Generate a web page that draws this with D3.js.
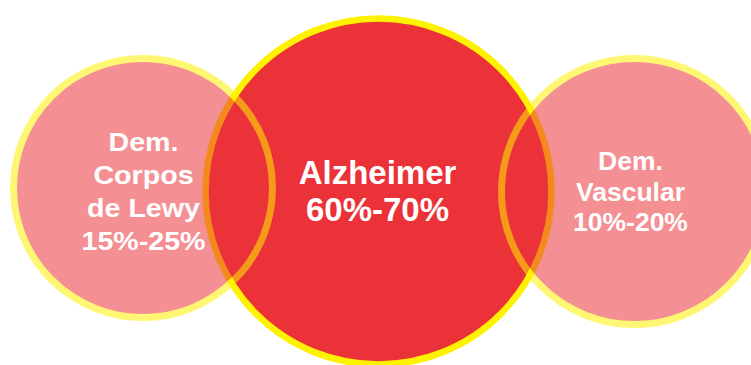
<!DOCTYPE html>
<html>
<head>
<meta charset="utf-8">
<script src="https://cdn.jsdelivr.net/npm/d3@7"></script>
<style>
  html, body { margin: 0; padding: 0; background: #ffffff; overflow: hidden; }
  svg { display: block; }
</style>
</head>
<body>
<svg id="chart" width="751" height="365"></svg>
<script>
// ---- data ----
const categories = ["Dem. Corpos de Lewy", "Alzheimer", "Dem. Vascular"];
const labelLines = [["Dem.", "Corpos", "de Lewy"], ["Alzheimer"], ["Dem.", "Vascular"]];
const rangeLow  = [15, 60, 10];
const rangeHigh = [25, 70, 20];

// ---- layout (not data) ----
const W = 751, H = 365;
const layout = [
  { cx: 143,   cy: 188,   r: 129.5, sw: 7,   opacity: 0.54, font: 26, sx: 1.10, lineH: 33,   textX: 143.5, firstBase: 151 },
  { cx: 378.5, cy: 191.5, r: 173,   sw: 6.5, opacity: 1,    font: 33, sx: 1.00, lineH: 37.5, textX: 377.5, firstBase: 183.5 },
  { cx: 634.5, cy: 191.5, r: 133,   sw: 7,   opacity: 0.54, font: 25, sx: 1.06, lineH: 30.5, textX: 630.5, firstBase: 170.5 }
];
const fillColor = "#ec3239";
const strokeColor = "#fff200";

const svg = d3.select("#chart");
const fmt = (lo, hi) => `${lo}%-${hi}%`;

const items = categories.map((c, i) => ({
  name: c,
  lines: labelLines[i].concat([fmt(rangeLow[i], rangeHigh[i])]),
  ...layout[i],
  order: i
}));

// draw the big (opaque) circle first, then the translucent side circles on top
const drawOrder = [1, 0, 2];

svg.selectAll("circle.set")
  .data(drawOrder.map(i => items[i]))
  .join("circle")
  .attr("class", "set")
  .attr("cx", d => d.cx)
  .attr("cy", d => d.cy)
  .attr("r", d => d.r)
  .attr("fill", fillColor)
  .attr("stroke", strokeColor)
  .attr("stroke-width", d => d.sw)
  .attr("opacity", d => d.opacity);

const labels = svg.selectAll("g.label")
  .data(items)
  .join("g")
  .attr("class", "label")
  .attr("transform", d => `translate(${d.textX},0) scale(${d.sx},1)`);

labels.each(function(d) {
  const g = d3.select(this);
  g.selectAll("text")
    .data(d.lines)
    .join("text")
    .attr("x", 0)
    .attr("y", (t, j) => d.firstBase + j * d.lineH)
    .attr("text-anchor", "middle")
    .attr("font-family", "'Liberation Sans', Arial, Helvetica, sans-serif")
    .attr("font-weight", "bold")
    .attr("font-size", d.font)
    .attr("fill", "#ffffff")
    .text(t => t);
});
</script>
</body>
</html>
